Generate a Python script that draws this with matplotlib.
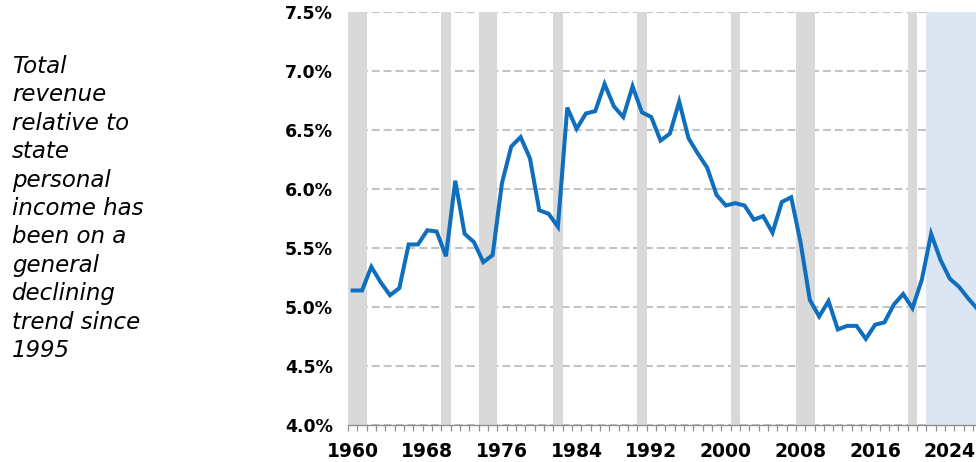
import numpy as np
import matplotlib
matplotlib.use("Agg")
import matplotlib.pyplot as plt

# state revenue as a share of state personal income, 1960-2027 (2022 on = forecast)
years = list(range(1960, 2028))
revenue_pct = [
    5.14, 5.14, 5.34, 5.21, 5.10, 5.16, 5.53, 5.53, 5.65, 5.64,
    5.43, 6.07, 5.62, 5.55, 5.38, 5.44, 6.05, 6.36, 6.44, 6.26,
    5.82, 5.79, 5.68, 6.69, 6.51, 6.64, 6.66, 6.89, 6.70, 6.61,
    6.87, 6.65, 6.61, 6.41, 6.47, 6.74, 6.43, 6.30, 6.18, 5.95,
    5.86, 5.88, 5.86, 5.74, 5.77, 5.63, 5.89, 5.93, 5.55, 5.06,
    4.92, 5.05, 4.81, 4.84, 4.84, 4.73, 4.85, 4.87, 5.02, 5.11,
    4.99, 5.23, 5.62, 5.40, 5.24, 5.17, 5.07, 4.98,
]
recession_years = [1960, 1961, 1970, 1974, 1975, 1982, 1991, 2001, 2008, 2009, 2020]
forecast_start = 2022
label_years = list(range(1960, 2028, 8))
y_ticks = [4.0, 4.5, 5.0, 5.5, 6.0, 6.5, 7.0, 7.5]
note = ("Total\nrevenue\nrelative to\nstate\npersonal\nincome has\n"
        "been on a\ngeneral\ndeclining\ntrend since\n1995")

idx = np.arange(len(years))

fig = plt.figure(figsize=(9.76, 4.62), dpi=100)
ax = fig.add_axes([348 / 976, 37 / 462, 628 / 976, 413 / 462])

# grid first, then shading on top of it, then the line
ax.set_axisbelow(True)
ax.yaxis.grid(True, color="#c4c4c4", linestyle=(0, (3.8, 1.9)), linewidth=1.5, zorder=0)

for yr in recession_years:
    i = years.index(yr)
    ax.axvspan(i - 0.5, i + 0.5, color="#d9d9d9", lw=0, zorder=1)

f0 = years.index(forecast_start)
ax.axvspan(f0 - 0.5, len(years) + 2, color="#dce6f2", lw=0, zorder=1)

ax.plot(idx, revenue_pct, color="#0f6fbe", lw=2.9, solid_joinstyle="miter", zorder=3)

ax.set_xlim(-0.5, -0.5 + 628 / 9.33)
ax.set_ylim(4.0, 7.5)

ax.set_yticks(y_ticks)
ax.set_yticklabels(["%.1f%%" % v for v in y_ticks], fontsize=12.5, fontweight="bold")
ax.tick_params(axis="y", length=0, pad=11)

ax.set_xticks([years.index(y) for y in label_years])
ax.set_xticklabels([str(y) for y in label_years], fontsize=13.5, fontweight="bold")
ax.set_xticks(idx - 0.5, minor=True)
ax.tick_params(axis="x", which="major", length=0, pad=12)
ax.tick_params(axis="x", which="minor", length=4.5, width=0.9, color="#909090", direction="out")

for s in ["top", "right", "left"]:
    ax.spines[s].set_visible(False)
ax.spines["bottom"].set_color("#909090")
ax.spines["bottom"].set_linewidth(1.0)

fig.text(12 / 976, 1 - 55 / 462, note, fontsize=16.5, style="italic",
         ha="left", va="top", linespacing=1.3)

fig.savefig("out.png", dpi=100)
